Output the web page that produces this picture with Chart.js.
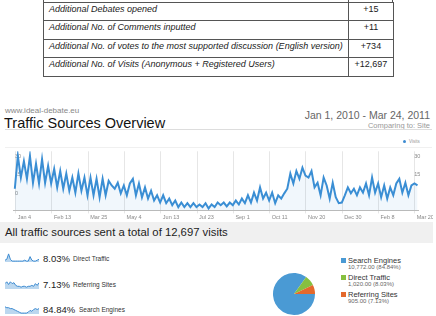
<!DOCTYPE html>
<html>
<head>
<meta charset="utf-8">
<script src="https://cdn.jsdelivr.net/npm/chart.js@4.4.1/dist/chart.umd.min.js"></script>
<style>
  body { margin:0; width:436px; height:316px; background:#fff; position:relative; overflow:hidden;
         font-family:"Liberation Sans", Arial, sans-serif; }
  .abs { position:absolute; white-space:nowrap; }
  table { position:absolute; left:43px; top:2px; width:350px; table-layout:fixed; border-collapse:collapse;
          font-size:9px; color:#222; }
  td { border:1px solid #555; height:16.4px; padding:1px 0 0 5px; vertical-align:top; line-height:10px;
       white-space:nowrap; overflow:hidden; }
  td.t { width:299px; font-style:italic; }
  td.n { width:44px; text-align:center; padding:1px 0 0 0; }
  .vl { position:absolute; top:0; width:1px; height:3px; background:#555; }
  .sq { position:absolute; width:5px; height:5px; }
</style>
</head>
<body>

<div class="vl" style="left:43px"></div>
<div class="vl" style="left:348px"></div>
<div class="vl" style="left:392px"></div>
<table id="tabela"></table>

<div class="abs" style="left:5px; top:106px; font-size:8px; line-height:10px; color:#888">www.ideal-debate.eu</div>
<div class="abs" style="left:4px; top:115px; font-size:14.5px; line-height:16px; color:#111">Traffic Sources Overview</div>
<div class="abs" style="right:6px; top:108.5px; font-size:10.5px; line-height:12px; color:#666">Jan 1, 2010 - Mar 24, 2011</div>
<div class="abs" style="right:6px; top:120.5px; font-size:7.5px; line-height:9px; color:#999">Comparing to: Site</div>
<div class="abs" style="left:5px; top:129px; width:427px; height:1px; background:#ddd"></div>
<div class="abs" style="left:403px; top:140.2px; width:3px; height:3px; border-radius:2px; background:#3d8bd1"></div>
<div class="abs" style="left:409px; top:139px; font-size:4.5px; line-height:5px; color:#999">Visits</div>
<div class="abs" style="left:5px; top:146.5px; width:427px; height:1px; background:#f0f0f0"></div>

<div class="abs" style="left:0; top:146px; width:433px; height:76px"><canvas id="chart-visitas" width="433" height="76"></canvas></div>

<div class="abs" style="left:0; top:222px; width:433px; height:21px; background:#f0f0f0"></div>
<div class="abs" style="left:5px; top:225px; font-size:11.3px; line-height:14px; color:#222">All traffic sources sent a total of 12,697 visits</div>

<div class="abs" style="left:5px; top:253px"><canvas id="spark-direct" width="34" height="9"></canvas></div>
<div class="abs" style="left:5px; top:280px"><canvas id="spark-referring" width="34" height="9"></canvas></div>
<div class="abs" style="left:5px; top:305px"><canvas id="spark-search" width="34" height="9"></canvas></div>
<div id="linhas-fontes"></div>

<div class="abs" style="left:272px; top:272px"><canvas id="chart-pizza" width="44" height="44"></canvas></div>
<div id="legenda-pizza"></div>

<script>
// ---- dados ----
const tabelaLabels = [
  "Additional Debates opened",
  "Additional No. of Comments inputted",
  "Additional No. of votes to the most supported discussion (English version)",
  "Additional No. of Visits (Anonymous + Registered Users)"
]
const tabelaValores = ["+15", "+11", "+734", "+12,697"]

// visitas diarias (~1 ponto a cada 3,3 dias, picos e vales)
const visitas = [
  33,83,50,75,48,83,42,71,41,78,42,68,41,63,35,60,33,56,30,50,27,56,30,50,23,50,23,48,20,48,23,45,38,
  33,42,26,38,23,41,48,23,41,20,35,18,30,15,23,12,23,11,18,8,15,5,12,5,11,5,11,5,9,5,11,3,9,
  5,12,8,12,6,12,8,15,9,18,11,23,12,27,15,35,18,27,15,27,11,23,18,26,33,56,41,60,48,65,53,
  50,60,35,42,23,50,38,18,42,20,11,12,23,35,26,33,23,35,27,41,23,50,27,41,20,38,18,35,23,41,48,27,42,23,38,41,38
]
const diaInicio = 2
const diaFim    = 446

const ticksDias   = [3, 43, 83, 123, 163, 203, 243, 283, 323, 363, 403, 443]
const ticksLabels = ["Jan 4","Feb 13","Mar 25","May 4","Jun 13","Jul 23","Sep 1","Oct 11","Nov 20","Dec 30","Feb 8","Mar 20"]

const yEsqValores = [25.5, 54, 82.5]
const yEsqLabels  = ["0", "15", "30"]
const yDirValores = [54, 82.5]
const yDirLabels  = ["15", "30"]

const fontes        = ["Search Engines", "Direct Traffic", "Referring Sites"]
const fontesVisitas = [10772, 1020, 905]
const fontesTexto   = ["10,772.00 (84.84%)", "1,020.00 (8.03%)", "905.00 (7.13%)"]
const fontesCores   = ["#4a9ad4", "#86c040", "#e4692c"]

const sparkDirect    = [2,3,9,3,1,1,1,1,1,1,1,2,1,1,6,2,1,1,2,3]
const sparkReferring = [6,8,5,8,6,7,4,3,3,2,3,3,2,3,3,4,3,6,4,7]
const sparkSearch    = [8,7,7,6,6,5,4,3,2,1,1,1,1,2,4,3,5,6,5,6]

// ---- tabela ----
document.getElementById("tabela").innerHTML = tabelaLabels.map((l, i) =>
  `<tr><td class="t">${l}</td><td class="n">${tabelaValores[i]}</td></tr>`).join("")

// ---- linhas das fontes ----
const linhas = [
  { pct: "8.03%",  nome: "Direct Traffic",  y: 258.5, x: 73 },
  { pct: "7.13%",  nome: "Referring Sites", y: 285,   x: 73 },
  { pct: "84.84%", nome: "Search Engines",  y: 310,   x: 79 }
]
document.getElementById("linhas-fontes").innerHTML = linhas.map(l => `
  <div class="abs" style="left:43px; top:${l.y - 6}px; font-size:9.5px; line-height:12px; color:#222">${l.pct}</div>
  <div class="abs" style="left:${l.x}px; top:${l.y - 4}px; font-size:6.5px; line-height:8px; color:#333">${l.nome}</div>
`).join("")

// ---- legenda pizza ----
const legY = [260, 277, 294]
document.getElementById("legenda-pizza").innerHTML = fontes.map((f, i) => `
  <div class="sq" style="left:341px; top:${legY[i] - 2.5}px; background:${fontesCores[i]}"></div>
  <div class="abs" style="left:348px; top:${legY[i] - 4.5}px; font-size:7.5px; line-height:9px; color:#333">${f}</div>
  <div class="abs" style="left:348px; top:${legY[i] + 4}px; font-size:6px; line-height:7px; color:#666">${fontesTexto[i]}</div>
`).join("")

// ---- grafico principal ----
const passo = (diaFim - diaInicio) / (visitas.length - 1)
const pontos = visitas.map((v, i) => ({ x: diaInicio + i * passo, y: v }))

const fonteTick = { family: "Liberation Sans", size: 5.5 }

new Chart(document.getElementById("chart-visitas").getContext("2d"), {
  type: "line",
  data: {
    datasets: [{
      data: pontos,
      borderColor: "#3a8ed4", borderWidth: 2, pointRadius: 0, tension: 0,
      fill: true, backgroundColor: "rgba(61,139,209,0.07)"
    }]
  },
  options: {
    responsive: false, animation: false,
    layout: { padding: { left: 1, right: 1, top: 4, bottom: 0 } },
    plugins: { legend: { display: false }, tooltip: { enabled: false } },
    scales: {
      x: {
        type: "linear", min: 0, max: 447,
        afterBuildTicks: s => { s.ticks = ticksDias.map(v => ({ value: v })) },
        ticks: { callback: (v, i) => ticksLabels[i], align: "start", labelOffset: 2, maxRotation: 0,
                 autoSkip: false, font: fonteTick, color: "#888", padding: 1 },
        grid: { color: "#e6e6e6", tickLength: 3 },
        border: { color: "#bbb" }
      },
      y: {
        min: 0, max: 90,
        afterBuildTicks: s => { s.ticks = yEsqValores.map(v => ({ value: v })) },
        ticks: { mirror: true, callback: (v, i) => yEsqLabels[i], font: fonteTick, color: "#888", padding: 2 },
        grid: { display: false }, border: { display: false }
      },
      y2: {
        position: "right", min: 0, max: 90,
        afterBuildTicks: s => { s.ticks = yDirValores.map(v => ({ value: v })) },
        ticks: { mirror: true, callback: (v, i) => yDirLabels[i], font: fonteTick, color: "#888", padding: 2 },
        grid: { display: false }, border: { display: false }
      }
    }
  }
})

// ---- sparklines ----
function sparkline(id, valores) {
  new Chart(document.getElementById(id).getContext("2d"), {
    type: "line",
    data: {
      labels: valores.map((v, i) => i),
      datasets: [{ data: valores, borderColor: "#3d8bd1", borderWidth: 1, pointRadius: 0,
                   fill: true, backgroundColor: "rgba(61,139,209,0.35)", tension: 0 }]
    },
    options: {
      responsive: false, animation: false,
      layout: { padding: 0 },
      plugins: { legend: { display: false }, tooltip: { enabled: false } },
      scales: { x: { display: false }, y: { display: false, min: 0 } }
    }
  })
}
sparkline("spark-direct", sparkDirect)
sparkline("spark-referring", sparkReferring)
sparkline("spark-search", sparkSearch)

// ---- pizza ----
new Chart(document.getElementById("chart-pizza").getContext("2d"), {
  type: "pie",
  data: {
    labels: fontes,
    datasets: [{ data: fontesVisitas, backgroundColor: fontesCores, borderWidth: 0 }]
  },
  options: {
    responsive: false, animation: false, rotation: 90,
    layout: { padding: 1 },
    plugins: { legend: { display: false }, tooltip: { enabled: false } }
  }
})
</script>
</body>
</html>
